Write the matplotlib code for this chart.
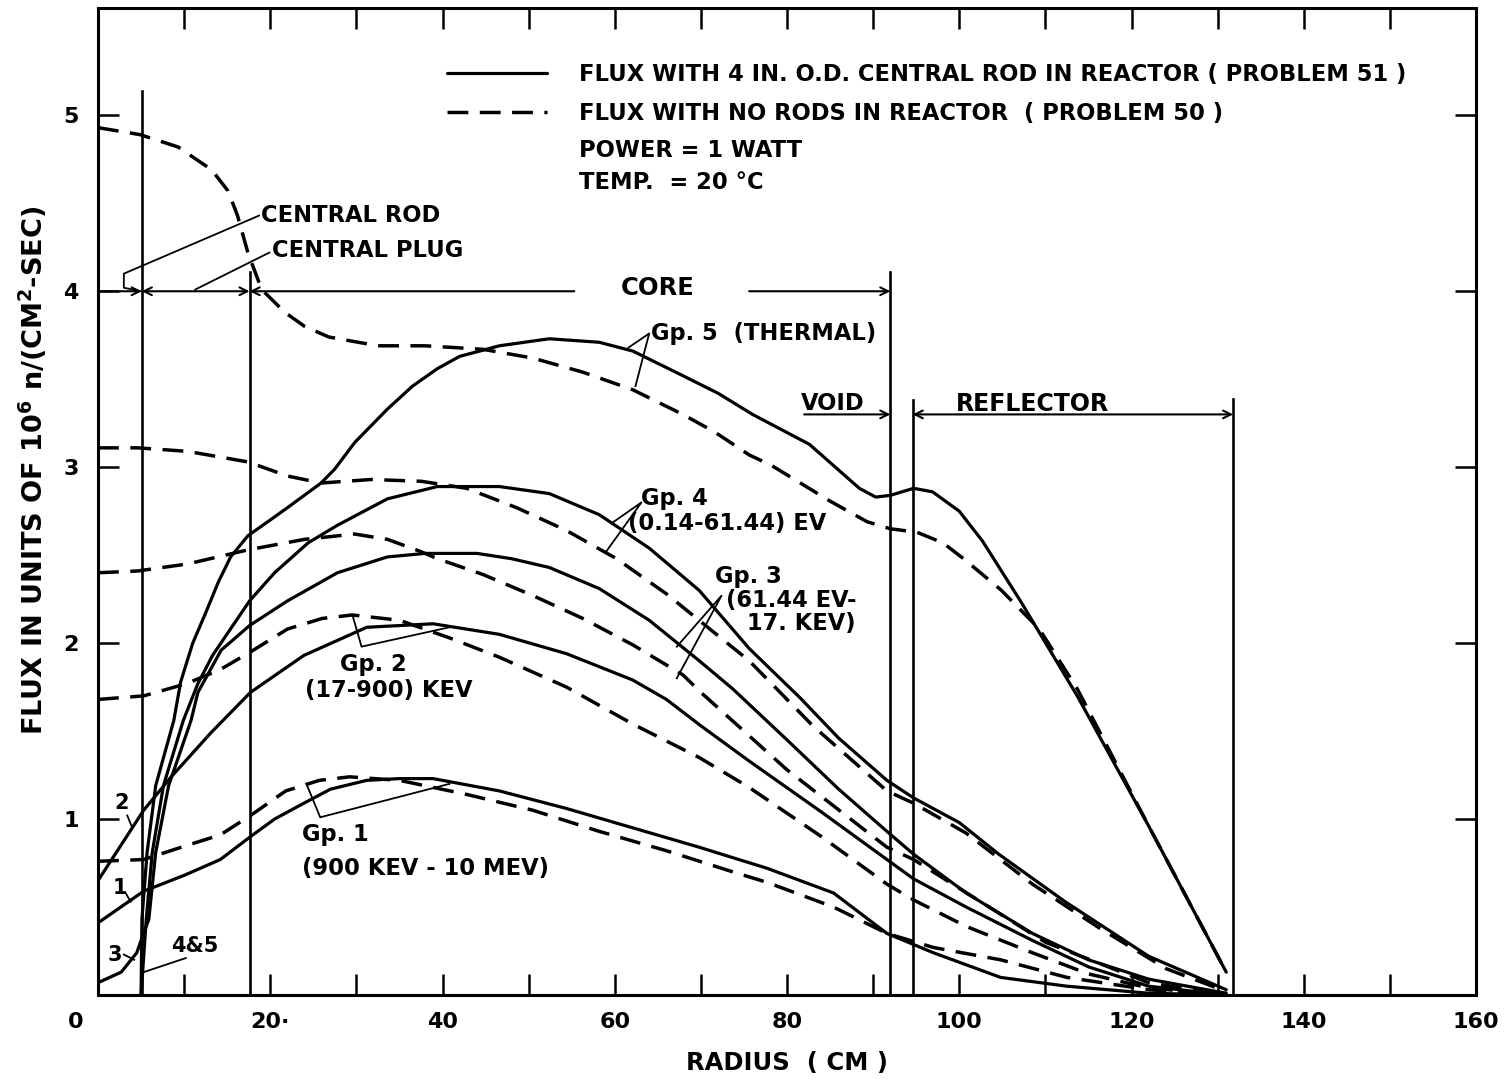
import matplotlib
matplotlib.use("Agg")
import matplotlib.pyplot as plt
from matplotlib.transforms import ScaledTranslation

plt.rcParams['font.family'] = ['DejaVu Sans']
plt.rcParams['font.weight'] = 'bold'

# ---------------- data (radius cm, flux 1e6 n/cm^2-s) ----------------
gp5_rod_x = [5.0, 5.1, 5.7, 6.7, 8.8, 9.6, 11.0, 12.4, 14.0, 15.4, 17.4, 20.0, 22.0, 25.9, 27.5, 29.8, 33.6, 36.5, 39.4, 42.0, 46.6, 52.4, 58.2, 62.1, 67.5, 72.0, 76.0, 82.6, 88.4, 90.3, 92.0, 94.7, 96.9, 100.0, 102.7, 107.1, 113.7, 122.0, 131.0]
gp5_rod_y = [0.0, 0.43, 0.81, 1.19, 1.56, 1.78, 2.00, 2.16, 2.35, 2.49, 2.61, 2.70, 2.77, 2.91, 2.99, 3.14, 3.33, 3.46, 3.56, 3.63, 3.69, 3.73, 3.71, 3.66, 3.53, 3.42, 3.30, 3.13, 2.88, 2.83, 2.84, 2.88, 2.86, 2.75, 2.58, 2.24, 1.70, 0.96, 0.13]

gp5_norod_x = [0, 4.9, 9.3, 13.2, 15.1, 16.2, 17.4, 19.0, 21.7, 24.0, 26.8, 32.5, 38.0, 44.7, 50.5, 56.3, 62.1, 67.9, 71.6, 75.6, 78.2, 84.9, 89.3, 92.0, 95.1, 98.1, 100.5, 104.9, 109.3, 113.7, 122.0, 131.0]
gp5_norod_y = [4.93, 4.89, 4.82, 4.69, 4.57, 4.43, 4.22, 4.01, 3.88, 3.80, 3.74, 3.69, 3.69, 3.67, 3.62, 3.54, 3.44, 3.30, 3.20, 3.07, 3.01, 2.81, 2.69, 2.65, 2.63, 2.57, 2.48, 2.30, 2.08, 1.74, 0.96, 0.13]

gp4_rod_x = [5.0, 5.6, 6.3, 7.6, 9.9, 11.6, 13.3, 15.1, 17.6, 20.5, 24.4, 27.8, 33.6, 39.4, 46.6, 52.4, 58.2, 64.0, 69.8, 75.6, 81.5, 86.0, 91.6, 94.7, 100.0, 104.6, 112.3, 122.0, 131.0]
gp4_rod_y = [0.0, 0.43, 0.81, 1.19, 1.56, 1.77, 1.93, 2.06, 2.24, 2.40, 2.57, 2.67, 2.82, 2.89, 2.89, 2.85, 2.73, 2.54, 2.30, 1.97, 1.69, 1.46, 1.22, 1.12, 0.98, 0.80, 0.53, 0.22, 0.03]

gp4_norod_x = [0, 4.6, 10.4, 17.4, 22.0, 25.9, 31.7, 37.5, 42.8, 48.6, 54.4, 60.2, 66.0, 71.8, 75.6, 83.0, 91.6, 94.7, 100.8, 108.5, 116.3, 124.0, 131.0]
gp4_norod_y = [3.11, 3.11, 3.09, 3.03, 2.95, 2.91, 2.93, 2.92, 2.88, 2.77, 2.64, 2.48, 2.28, 2.05, 1.90, 1.53, 1.16, 1.09, 0.92, 0.63, 0.38, 0.15, 0.02]

gp3_rod_x = [0, 2.7, 4.5, 5.0, 5.9, 6.7, 8.2, 10.8, 11.6, 14.3, 17.6, 22.0, 27.8, 33.6, 38.0, 44.0, 48.0, 52.4, 58.2, 64.0, 69.8, 73.7, 80.0, 86.0, 91.6, 94.7, 100.8, 108.5, 115.0, 122.0, 131.0]
gp3_rod_y = [0.07, 0.13, 0.24, 0.31, 0.43, 0.81, 1.19, 1.56, 1.72, 1.96, 2.10, 2.24, 2.40, 2.49, 2.51, 2.51, 2.48, 2.43, 2.31, 2.13, 1.90, 1.74, 1.45, 1.17, 0.93, 0.80, 0.58, 0.35, 0.20, 0.09, 0.01]

gp3_norod_x = [0, 4.6, 10.4, 17.4, 24.0, 29.8, 33.6, 37.5, 39.4, 44.7, 50.5, 56.3, 62.1, 67.9, 70.0, 80.0, 91.6, 94.7, 102.8, 110.0, 122.0, 131.0]
gp3_norod_y = [2.40, 2.41, 2.45, 2.53, 2.59, 2.62, 2.59, 2.52, 2.48, 2.39, 2.27, 2.14, 1.99, 1.82, 1.72, 1.28, 0.84, 0.77, 0.52, 0.30, 0.07, 0.0]

gp2_rod_x = [0, 5.3, 8.5, 13.1, 17.7, 23.9, 31.2, 38.9, 46.6, 54.4, 62.1, 66.0, 70.0, 75.6, 84.0, 91.6, 94.7, 100.8, 108.5, 115.0, 122.0, 131.0]
gp2_rod_y = [0.65, 1.05, 1.24, 1.49, 1.72, 1.93, 2.09, 2.11, 2.05, 1.94, 1.79, 1.68, 1.53, 1.33, 1.04, 0.77, 0.66, 0.50, 0.31, 0.16, 0.05, 0.0]

gp2_norod_x = [0, 5.3, 10.3, 14.2, 17.7, 22.0, 26.0, 29.5, 35.0, 40.8, 46.6, 54.4, 62.1, 69.8, 75.6, 84.0, 91.6, 94.7, 100.8, 108.5, 115.0, 122.0, 131.0]
gp2_norod_y = [1.68, 1.70, 1.77, 1.85, 1.95, 2.08, 2.14, 2.16, 2.13, 2.03, 1.92, 1.75, 1.54, 1.35, 1.18, 0.90, 0.63, 0.54, 0.39, 0.24, 0.12, 0.04, 0.0]

gp1_rod_x = [0, 5.3, 10.0, 14.2, 17.7, 20.5, 23.9, 27.0, 31.2, 35.0, 38.9, 46.6, 54.4, 62.1, 69.8, 77.7, 85.4, 91.6, 97.0, 104.8, 112.5, 122.0, 131.0]
gp1_rod_y = [0.41, 0.59, 0.68, 0.77, 0.90, 1.00, 1.09, 1.17, 1.22, 1.23, 1.23, 1.16, 1.06, 0.95, 0.84, 0.72, 0.58, 0.35, 0.24, 0.10, 0.05, 0.01, 0.0]

gp1_norod_x = [0, 5.3, 10.3, 14.2, 17.7, 21.8, 25.7, 29.2, 35.0, 42.8, 50.5, 58.2, 66.0, 73.7, 77.7, 85.4, 91.6, 97.0, 104.8, 112.5, 122.0, 131.0]
gp1_norod_y = [0.76, 0.77, 0.85, 0.91, 1.02, 1.16, 1.22, 1.24, 1.22, 1.14, 1.05, 0.93, 0.82, 0.70, 0.64, 0.50, 0.35, 0.27, 0.20, 0.10, 0.03, 0.0]

# region boundaries (cm) and the heights their marker lines reach
rod_radius, plug_radius, core_radius = 5.08, 17.6, 92.0
refl_inner, refl_outer = 94.6, 131.8
boundary_tops = [5.14, 4.11, 4.11, 3.38, 3.39]

x_ticks = [0, 20, 40, 60, 80, 100, 120, 140, 160]
x_tick_labels = ["0", "20·", "40", "60", "80", "100", "120", "140", "160"]
y_ticks = [1, 2, 3, 4, 5]
y_tick_labels = ["1", "2", "3", "4", "5"]

legend_solid = "FLUX WITH 4 IN. O.D. CENTRAL ROD IN REACTOR ( PROBLEM 51 )"
legend_dashed = "FLUX WITH NO RODS IN REACTOR  ( PROBLEM 50 )"

# ---------------- figure ----------------
fig = plt.figure(figsize=(15.09, 10.81), dpi=100)
ax = fig.add_axes([98/1509, 1-995/1081, (1476-98)/1509, (995-8)/1081])
ax.set_xlim(0, 160)
ax.set_ylim(0, 5.61)

LW = 2.3
DASH = (6, 3.3)
solid = dict(color='black', lw=LW, solid_capstyle='round', solid_joinstyle='round')
dashed = dict(color='black', lw=2.5, dashes=DASH, dash_capstyle='butt')

for xs, ys in [(gp5_rod_x, gp5_rod_y), (gp4_rod_x, gp4_rod_y), (gp3_rod_x, gp3_rod_y),
               (gp2_rod_x, gp2_rod_y), (gp1_rod_x, gp1_rod_y)]:
    ax.plot(xs, ys, **solid)
for xs, ys in [(gp5_norod_x, gp5_norod_y), (gp4_norod_x, gp4_norod_y), (gp3_norod_x, gp3_norod_y),
               (gp2_norod_x, gp2_norod_y), (gp1_norod_x, gp1_norod_y)]:
    ax.plot(xs, ys, **dashed)

# region boundary lines
for xb, top in zip([rod_radius, plug_radius, core_radius, refl_inner, refl_outer], boundary_tops):
    ax.plot([xb, xb], [0, top], color='black', lw=1.9)

# spines / ticks
for s in ax.spines.values():
    s.set_linewidth(2.2)
ax.set_xticks(x_ticks)
ax.set_xticklabels(x_tick_labels)
ax.set_xticks(list(range(10, 160, 20)), minor=True)
ax.set_yticks(y_ticks)
ax.set_yticklabels(y_tick_labels)
ax.tick_params(axis='both', which='both', direction='in', length=15, width=1.8,
               top=True, right=True, labelsize=16)
ax.tick_params(axis='x', pad=12)
ax.tick_params(axis='y', pad=14)
lbl0 = ax.get_xticklabels()[0]
lbl0.set_transform(lbl0.get_transform() + ScaledTranslation(-0.22, 0, fig.dpi_scale_trans))

ax.set_xlabel("RADIUS  ( CM )", fontsize=17.5, fontweight='bold', labelpad=14)
fig.text(33/1509, 1-470/1081, "FLUX IN UNITS OF 10$^{6}$ n/(CM$^{2}$-SEC)",
         rotation=90, ha='center', va='center', fontsize=19.5, fontweight='bold')
plt.rcParams['mathtext.default'] = 'bf'

# legend drawn as in the original drawing
ax.plot([40.5, 52.1], [5.24, 5.24], **solid)
ax.plot([40.5, 52.1], [5.02, 5.02], **dashed)
FS = 16.3
tk = dict(fontsize=FS, va='center', ha='left')
ax.text(55.9, 5.23, legend_solid, **tk)
ax.text(55.9, 5.01, legend_dashed, **tk)
ax.text(55.9, 4.80, "POWER = 1 WATT", **tk)
ax.text(55.9, 4.62, "TEMP.  = 20 °C", **tk)

# dimension line at 4.0
arr = dict(arrowstyle='->', color='black', lw=1.5, mutation_scale=14, shrinkA=0, shrinkB=0)
arr2 = dict(arrowstyle='<->', color='black', lw=1.5, mutation_scale=14, shrinkA=0, shrinkB=0)
ax.annotate("", xy=(rod_radius, 4.0), xytext=(0, 4.0), arrowprops=arr)
ax.annotate("", xy=(plug_radius, 4.0), xytext=(rod_radius, 4.0), arrowprops=arr2)
ax.annotate("", xy=(plug_radius, 4.0), xytext=(55.3, 4.0), arrowprops=arr)
ax.annotate("", xy=(core_radius, 4.0), xytext=(75.6, 4.0), arrowprops=arr)
ax.text(65.0, 4.02, "CORE", fontsize=17.5, ha='center', va='center')

# central rod / plug labels
ax.text(18.9, 4.43, "CENTRAL ROD", fontsize=FS, ha='left', va='center')
ax.text(20.2, 4.23, "CENTRAL PLUG", fontsize=FS, ha='left', va='center')
ax.plot([18.7, 3.0, 3.0, 5.0], [4.43, 4.10, 4.02, 4.0], color='black', lw=1.3)
ax.plot([19.9, 11.3], [4.22, 4.01], color='black', lw=1.3)

# void / reflector
ax.text(85.3, 3.36, "VOID", fontsize=FS, ha='center', va='center')
ax.annotate("", xy=(core_radius, 3.30), xytext=(82.0, 3.30), arrowprops=arr)
ax.text(108.5, 3.36, "REFLECTOR", fontsize=17, ha='center', va='center')
ax.annotate("", xy=(refl_inner, 3.30), xytext=(refl_outer, 3.30), arrowprops=arr2)

# group labels with leaders
lk = dict(color='black', lw=1.3)
ax.text(64.2, 3.76, "Gp. 5  (THERMAL)", fontsize=FS, ha='left', va='center')
ax.plot([61.6, 64.0, 62.4], [3.68, 3.76, 3.46], **lk)

ax.text(63.0, 2.82, "Gp. 4", fontsize=FS, ha='left', va='center')
ax.text(61.5, 2.68, "(0.14-61.44) EV", fontsize=FS, ha='left', va='center')
ax.plot([59.6, 63.1, 59.0], [2.68, 2.80, 2.52], **lk)

ax.text(71.6, 2.38, "Gp. 3", fontsize=FS, ha='left', va='center')
ax.text(72.9, 2.24, "(61.44 EV-", fontsize=FS, ha='left', va='center')
ax.text(75.3, 2.11, "17. KEV)", fontsize=FS, ha='left', va='center')
ax.plot([67.2, 72.4, 67.2], [1.98, 2.27, 1.80], **lk)

ax.text(28.1, 1.88, "Gp. 2", fontsize=FS, ha='left', va='center')
ax.text(24.0, 1.73, "(17-900) KEV", fontsize=FS, ha='left', va='center')
ax.plot([29.6, 30.6, 40.8], [2.15, 1.98, 2.09], **lk)

ax.text(23.7, 0.91, "Gp. 1", fontsize=FS, ha='left', va='center')
ax.text(23.7, 0.72, "(900 KEV - 10 MEV)", fontsize=FS, ha='left', va='center')
ax.plot([24.2, 25.8, 40.8], [1.20, 1.01, 1.20], **lk)

ax.text(2.8, 1.09, "2", fontsize=15, ha='center', va='center')
ax.plot([3.4, 3.9], [1.02, 0.96], **lk)
ax.text(2.6, 0.61, "1", fontsize=15, ha='center', va='center')
ax.plot([3.2, 3.8], [0.58, 0.53], **lk)
ax.text(1.9, 0.23, "3", fontsize=15, ha='center', va='center')
ax.plot([3.0, 4.2], [0.23, 0.20], **lk)
ax.text(11.2, 0.28, "4&5", fontsize=15, ha='center', va='center')
ax.plot([5.3, 10.2], [0.13, 0.21], **lk)

fig.savefig("out.png", dpi=100)
